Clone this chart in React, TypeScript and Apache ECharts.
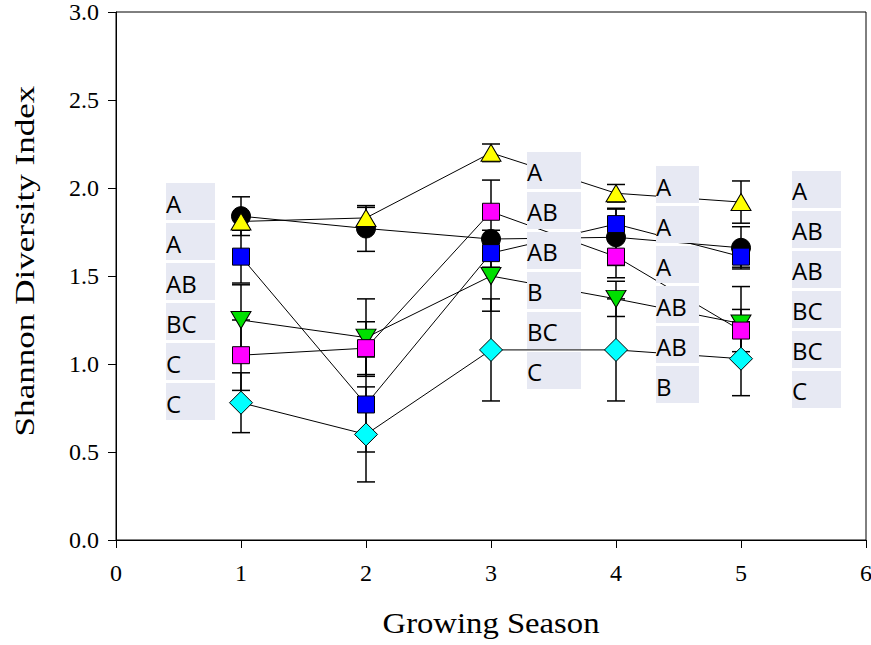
import React, { useEffect, useRef } from "react";
import * as echarts from "echarts";

// ---- data ----
const seasons = [1, 2, 3, 4, 5];

const blackMean = [1.84, 1.77, 1.71, 1.72, 1.66];
const blackErr = [0.11, 0.13, 0.05, 0.16, 0.12];
const yellowMean = [1.81, 1.83, 2.2, 1.97, 1.92];
const yellowErr = [0.05, 0.06, 0.05, 0.05, 0.12];
const blueMean = [1.61, 0.77, 1.63, 1.795, 1.61];
const blueErr = [0.15, 0.27, 0.08, 0.09, 0.06];
const greenMean = [1.25, 1.15, 1.5, 1.37, 1.23];
const greenErr = [0.2, 0.22, 0.2, 0.1, 0.21];
const magentaMean = [1.05, 1.09, 1.865, 1.61, 1.19];
const magentaErr = [0.2, 0.15, 0.18, 0.12, 0.12];
const cyanMean = [0.78, 0.6, 1.08, 1.08, 1.03];
const cyanErr = [0.17, 0.27, 0.29, 0.29, 0.21];

// letter annotation groups (data coordinates of group anchors)
const letterGroupX0 = [0.4, 3.288, 4.32, 5.408];
const letterGroupX1 = [0.792, 3.72, 4.664, 5.8];
const letterGroupTop = [2.028, 2.205, 2.125, 2.097];
const letterLabels = [
  ["A", "A", "AB", "BC", "C", "C"],
  ["A", "AB", "AB", "B", "BC", "C"],
  ["A", "A", "A", "AB", "AB", "B"],
  ["A", "AB", "AB", "BC", "BC", "C"],
];

const yTickLabels = ["0.0", "0.5", "1.0", "1.5", "2.0", "2.5", "3.0"];
const xTickLabels = ["0", "1", "2", "3", "4", "5", "6"];

const xTitle = "Growing Season";
const yTitle = "Shannon Diversity Index";

type SeriesDef = {
  name: string;
  mean: number[];
  err: number[];
  symbol: string;
  size: number | number[];
  rotate: number;
  color: string;
};

const seriesDefs: SeriesDef[] = [
  { name: "Black", mean: blackMean, err: blackErr, symbol: "circle", size: 19, rotate: 0, color: "#000000" },
  { name: "Yellow", mean: yellowMean, err: yellowErr, symbol: "triangle", size: [20, 17], rotate: 0, color: "#ffff00" },
  { name: "Blue", mean: blueMean, err: blueErr, symbol: "rect", size: 17, rotate: 0, color: "#0000ff" },
  { name: "Green", mean: greenMean, err: greenErr, symbol: "triangle", size: [20, 17], rotate: 180, color: "#00e000" },
  { name: "Magenta", mean: magentaMean, err: magentaErr, symbol: "rect", size: 17, rotate: 0, color: "#ff00ff" },
  { name: "Cyan", mean: cyanMean, err: cyanErr, symbol: "diamond", size: [23, 23], rotate: 0, color: "#00ffff" },
];

const SERIF = "'Liberation Serif', 'Times New Roman', serif";
const SANS = "'Open Sans', 'Noto Sans', sans-serif";

export default function App() {
  const ref = useRef<HTMLDivElement>(null);

  useEffect(() => {
    if (!ref.current) return;
    const chart = echarts.init(ref.current, undefined, { renderer: "svg" });

    // error bar data
    const errData: number[][] = [];
    seriesDefs.forEach((s) => {
      seasons.forEach((x, i) => errData.push([x, s.mean[i], s.err[i]]));
    });

    // letter boxes
    const boxData: number[][] = [];
    const boxText: string[] = [];
    letterLabels.forEach((labels, g) => {
      labels.forEach((lab, r) => {
        boxData.push([letterGroupX0[g], letterGroupTop[g], letterGroupX1[g], r]);
        boxText.push(lab);
      });
    });

    const series: any[] = [
      {
        type: "custom",
        name: "errorbars",
        z: 2,
        silent: true,
        data: errData,
        encode: { x: 0, y: 1 },
        renderItem: (params: any, api: any) => {
          const x = api.value(0);
          const y = api.value(1);
          const e = api.value(2);
          const hi = api.coord([x, y + e]);
          const lo = api.coord([x, y - e]);
          const hw = 9;
          const st = { stroke: "#000", lineWidth: 1.5 };
          return {
            type: "group",
            children: [
              { type: "line", shape: { x1: hi[0], y1: hi[1], x2: lo[0], y2: lo[1] }, style: st },
              { type: "line", shape: { x1: hi[0] - hw, y1: hi[1], x2: hi[0] + hw, y2: hi[1] }, style: st },
              { type: "line", shape: { x1: lo[0] - hw, y1: lo[1], x2: lo[0] + hw, y2: lo[1] }, style: st },
            ],
          };
        },
      },
      ...seriesDefs.map((s, k) => ({
        type: "line",
        name: s.name,
        z: 3 + k * 0.01,
        data: seasons.map((x, i) => [x, s.mean[i]]),
        symbol: s.symbol,
        symbolSize: s.size,
        symbolRotate: s.rotate,
        showAllSymbol: true,
        lineStyle: { color: "#000", width: 1 },
        itemStyle: { color: s.color, borderColor: "#000", borderWidth: 1, opacity: 1 },
        emphasis: { disabled: true },
      })),
      {
        type: "custom",
        name: "letters",
        z: 10,
        silent: true,
        data: boxData,
        encode: { x: 0, y: 1 },
        renderItem: (params: any, api: any) => {
          const x0 = api.value(0);
          const top = api.value(1);
          const x1 = api.value(2);
          const r = api.value(3);
          const p0 = api.coord([x0, top]);
          const p1 = api.coord([x1, top]);
          const y = p0[1] + r * 40;
          return {
            type: "group",
            children: [
              {
                type: "rect",
                shape: { x: p0[0], y: y, width: p1[0] - p0[0], height: 37 },
                style: { fill: "#e7e9f3" },
              },
              {
                type: "text",
                x: p0[0],
                y: y + 20,
                style: {
                  text: boxText[params.dataIndex],
                  font: `24px ${SANS}`,
                  fill: "#000",
                  textAlign: "left",
                  textVerticalAlign: "middle",
                },
              },
            ],
          };
        },
      },
    ];

    chart.setOption({
      animation: false,
      grid: {
        left: 116,
        top: 12,
        right: 5,
        bottom: 105,
        outerBoundsMode: "none",
        containLabel: false,
        show: true,
        borderColor: "#000",
        borderWidth: 1,
        backgroundColor: "transparent",
      },
      xAxis: {
        type: "value",
        min: 0,
        max: 6,
        interval: 1,
        axisLine: { lineStyle: { color: "#000", width: 1 } },
        axisTick: { length: 8, lineStyle: { color: "#000" } },
        axisLabel: {
          margin: 21,
          fontFamily: SERIF,
          fontSize: 24,
          color: "#000",
          hideOverlap: false,
          formatter: (v: number) => xTickLabels[Math.round(v)] ?? String(v),
        },
        splitLine: { show: false },
      },
      yAxis: {
        type: "value",
        min: 0,
        max: 3,
        interval: 0.5,
        axisLine: { show: true, lineStyle: { color: "#000", width: 1 } },
        axisTick: { show: true, length: 8, lineStyle: { color: "#000" } },
        axisLabel: {
          margin: 17,
          fontFamily: SERIF,
          fontSize: 24,
          color: "#000",
          formatter: (v: number) => yTickLabels[Math.round(v * 2)] ?? v.toFixed(1),
        },
        splitLine: { show: false },
      },
      graphic: [
        {
          type: "text",
          x: 491,
          y: 623,
          scaleX: 1.09,
          style: {
            text: xTitle,
            font: `30px ${SERIF}`,
            fill: "#000",
            textAlign: "center",
            textVerticalAlign: "middle",
          },
        },
        {
          type: "text",
          x: 25,
          y: 261,
          rotation: Math.PI / 2,
          scaleX: 1.3,
          style: {
            text: yTitle,
            font: `27px ${SERIF}`,
            fill: "#000",
            textAlign: "center",
            textVerticalAlign: "middle",
          },
        },
      ],
      series,
    });

    return () => chart.dispose();
  }, []);

  return (
    <div
      ref={ref}
      style={{ position: "absolute", left: 0, top: 0, width: 871, height: 645, background: "#fff" }}
    />
  );
}
